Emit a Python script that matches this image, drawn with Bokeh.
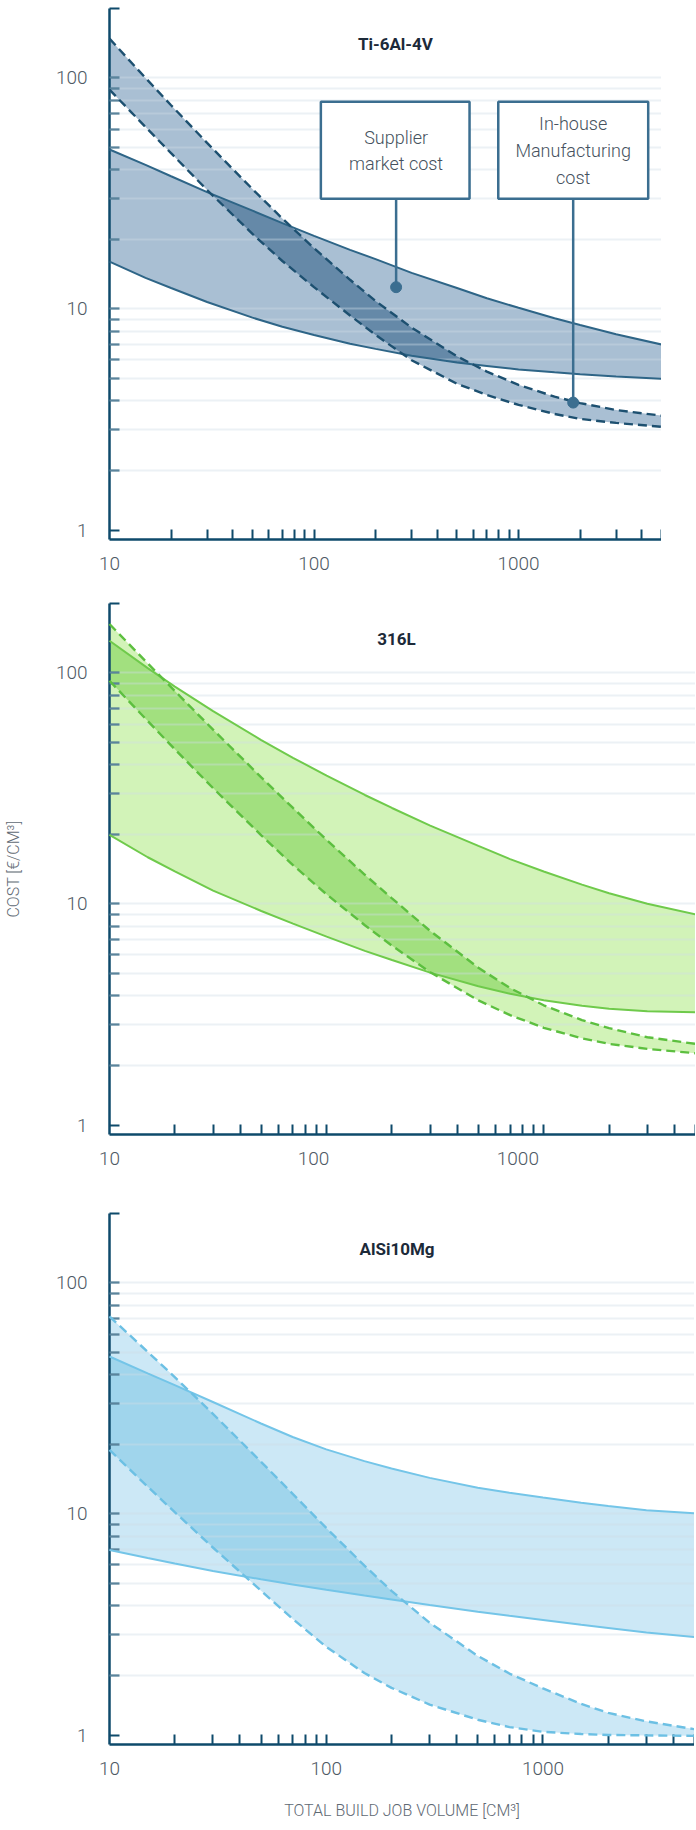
import numpy as np
from bokeh.plotting import figure
from bokeh.models import FixedTicker, Range1d, Label, BoxAnnotation, CustomJSTickFormatter
from bokeh.layouts import column
from bokeh.embed import file_html
from bokeh.resources import INLINE

# ---------------- data ----------------
volume = [10, 15, 20, 30, 50, 70, 100, 150, 200, 300, 500, 700, 1000, 1500, 2000, 3000, 5000]

ti_supplier_high = [49, 42, 37.5, 32, 26.6, 23.5, 20.7, 18, 16.4, 14.3, 12.3, 11.1, 10.1, 9.1, 8.5, 7.75, 7.0]
ti_supplier_low = [16, 13.6, 12.3, 10.7, 9.15, 8.35, 7.7, 7.05, 6.7, 6.25, 5.85, 5.65, 5.45, 5.3, 5.2, 5.08, 4.97]
ti_inhouse_high = [148, 100, 76.2, 52.3, 33.0, 24.6, 18.3, 13.35, 10.8, 8.28, 6.22, 5.34, 4.68, 4.16, 3.9, 3.64, 3.44]
ti_inhouse_low = [89, 61.3, 47.2, 32.7, 21.1, 16.1, 12.4, 9.35, 7.7, 5.98, 4.73, 4.23, 3.83, 3.5, 3.33, 3.2, 3.08]

ss_supplier_high = [138, 104.9, 87.2, 68.3, 51.2, 42.9, 35.9, 29.6, 26.0, 21.8, 17.8, 15.6, 13.8, 12.1, 11.1, 10.0, 9.0]
ss_supplier_low = [19.9, 15.9, 13.8, 11.4, 9.3, 8.2, 7.2, 6.25, 5.7, 5.03, 4.39, 4.07, 3.82, 3.61, 3.51, 3.42, 3.39]
ss_inhouse_high = [163, 110, 83.5, 56.8, 35.3, 26.0, 18.9, 13.35, 10.55, 7.62, 5.28, 4.31, 3.63, 3.13, 2.89, 2.64, 2.47]
ss_inhouse_low = [92.5, 61.9, 46.7, 31.7, 19.8, 14.7, 10.98, 8.07, 6.58, 5.05, 3.81, 3.29, 2.9, 2.61, 2.47, 2.35, 2.25]

al_supplier_high = [48, 40.6, 36.1, 30.5, 24.6, 21.5, 19.0, 16.9, 15.7, 14.3, 12.97, 12.34, 11.75, 11.15, 10.8, 10.35, 10.05]
al_supplier_low = [6.97, 6.43, 6.08, 5.65, 5.2, 4.94, 4.68, 4.42, 4.25, 4.02, 3.76, 3.61, 3.46, 3.3, 3.2, 3.06, 2.92]
al_inhouse_high = [71.6, 50.3, 39.1, 27.1, 16.8, 12.2, 8.68, 5.96, 4.63, 3.37, 2.42, 2.03, 1.75, 1.5, 1.37, 1.26, 1.165]
al_inhouse_low = [18.9, 13.1, 10.16, 7.14, 4.64, 3.5, 2.65, 2.04, 1.76, 1.49, 1.28, 1.19, 1.135, 1.11, 1.1, 1.095, 1.09]

chart_titles = ["Ti-6Al-4V", "316L", "AlSi10Mg"]

x_tick_labels = ["10", "100", "1000"]
x_label_values = [10, 100, 1000]
x_label_values_316l = [10, 87, 760]   # the reference draws 316L's labels at Ti-chart spacing
x_minor_ticks = [20, 30, 40, 50, 60, 70, 80, 90, 100, 200, 300, 400, 500, 600, 700, 800, 900, 1000,
                 2000, 3000, 4000, 5000]
y_tick_labels = ["1", "10", "100"]
y_label_values = [1.094, 10, 100]     # the "1" tick sits just above the x axis in the reference
y_minor_ticks = [2, 3, 4, 5, 6, 7, 8, 9, 20, 30, 40, 50, 60, 70, 80, 90, 200]
y_grid_values = [2, 3, 4, 5, 6, 7, 8, 9, 10, 20, 30, 40, 50, 60, 70, 80, 90, 100, 200]

X_START, X_END = 10, 5000
Y_START, Y_END = 1, 200

# annotation anchors (Ti-6Al-4V chart)
supplier_box = dict(left=108, right=576, bottom=30.0, top=78.8)
inhouse_box = dict(left=796, right=4305, bottom=30.0, top=78.8)
supplier_point = (252, 12.4)
inhouse_point = (1850, 3.92)

AXIS = "#0e4a6b"
TICK_FONT = "Roboto Light"
LABEL_COLOR = "#4f5a65"


def tick_formatter(positions, labels):
    return CustomJSTickFormatter(args=dict(pos=positions, labels=labels), code="""
        let best = 0, bd = Infinity;
        for (let i = 0; i < pos.length; i++) {
            const d = Math.abs(Math.log10(tick) - Math.log10(pos[i]));
            if (d < bd) { bd = d; best = i; }
        }
        return labels[best];
    """)


def overlap_band(xs, s_lo, s_hi, i_lo, i_hi, steps=40):
    lx = np.log10(xs)
    fine = np.unique(np.concatenate([np.linspace(lx[k], lx[k + 1], steps + 1) for k in range(len(lx) - 1)]))

    def at(c):
        return 10 ** np.interp(fine, lx, np.log10(c))

    lo = np.maximum(at(s_lo), at(i_lo))
    hi = np.minimum(at(s_hi), at(i_hi))
    hi = np.maximum(hi, lo)
    return 10 ** fine, lo, hi


def build(title, title_x, curves, colors, width, height, btop, bbottom, x_label_pos,
          ylabel=None, xlabel=None):
    s_lo, s_hi, i_lo, i_hi = curves
    band, over, solid, dashed = colors
    p = figure(width=width, height=height, x_axis_type="log", y_axis_type="log",
               x_range=Range1d(X_START, X_END), y_range=Range1d(Y_START, Y_END),
               output_backend="svg", toolbar_location=None, title=None,
               min_border_left=106, min_border_right=0, min_border_top=btop, min_border_bottom=bbottom)
    p.outline_line_color = None
    p.xgrid.visible = False
    p.ygrid.ticker = FixedTicker(ticks=y_grid_values)
    p.ygrid.grid_line_color = "#cfdde7"
    p.ygrid.grid_line_alpha = 0.4
    p.ygrid.grid_line_width = 2
    p.ygrid.level = "guide"

    # bands
    p.varea(x=volume, y1=s_lo, y2=s_hi, fill_color=band, fill_alpha=1)
    p.varea(x=volume, y1=i_lo, y2=i_hi, fill_color=band, fill_alpha=1)
    ox, olo, ohi = overlap_band(volume, s_lo, s_hi, i_lo, i_hi)
    p.varea(x=ox, y1=olo, y2=ohi, fill_color=over, fill_alpha=1)

    # curves
    p.line(volume, s_hi, line_color=solid, line_width=2, level="annotation")
    p.line(volume, s_lo, line_color=solid, line_width=2, level="annotation")
    p.line(volume, i_hi, line_color=dashed, line_width=2.4, line_dash="9 5", level="annotation")
    p.line(volume, i_lo, line_color=dashed, line_width=2.4, line_dash="9 5", level="annotation")

    # axes
    xa = p.xaxis[0]
    ya = p.yaxis[0]
    xa.ticker = FixedTicker(ticks=x_label_pos, minor_ticks=x_minor_ticks)
    xa.formatter = tick_formatter(x_label_pos, x_tick_labels)
    ya.ticker = FixedTicker(ticks=y_label_values, minor_ticks=y_minor_ticks)
    ya.formatter = tick_formatter(y_label_values, y_tick_labels)
    for ax in (xa, ya):
        ax.axis_line_color = AXIS
        ax.axis_line_width = 2.5
        ax.major_tick_line_color = AXIS
        ax.minor_tick_line_color = AXIS
        ax.major_tick_line_width = 2
        ax.minor_tick_line_width = 2
        ax.major_tick_out = 0
        ax.minor_tick_out = 0
        ax.minor_tick_in = 10
        ax.major_label_text_font = TICK_FONT
        ax.major_label_text_font_size = "19px"
        ax.major_label_text_color = LABEL_COLOR
        ax.axis_label_text_font = TICK_FONT
        ax.axis_label_text_font_style = "normal"
        ax.axis_label_text_color = "#5f6a74"
    xa.major_tick_in = 0
    ya.major_tick_in = 10
    ya.major_label_standoff = 22
    xa.major_label_standoff = 17
    if ylabel:
        ya.axis_label = ylabel
        ya.axis_label_text_font_size = "16px"
        ya.axis_label_standoff = 30
    if xlabel:
        xa.axis_label = xlabel
        xa.axis_label_text_font_size = "16px"
        xa.axis_label_standoff = 23

    p.add_layout(Label(x=title_x, y=140, text=title, text_align="center", text_baseline="middle",
                       text_font="Roboto", text_font_style="bold", text_font_size="17px",
                       text_color="#1c2a39"))
    return p


p1 = build(chart_titles[0], 250, (ti_supplier_low, ti_supplier_high, ti_inhouse_low, ti_inhouse_high),
           ("#a9bfd3", "#6589a8", "#2e6587", "#1d5070"), 661, 600, 8, 61, x_label_values)
p2 = build(chart_titles[1], 210, (ss_supplier_low, ss_supplier_high, ss_inhouse_low, ss_inhouse_high),
           ("#d2f3b8", "#a2e07f", "#6fca4b", "#5cbf3f"), 695, 610, 3, 76, x_label_values_316l,
           ylabel="COST [€/CM³]")
p3 = build(chart_titles[2], 212, (al_supplier_low, al_supplier_high, al_inhouse_low, al_inhouse_high),
           ("#cce8f6", "#a0d5ec", "#74c5e8", "#6cc0e4"), 694, 618, 3, 84, x_label_values,
           xlabel="TOTAL BUILD JOB VOLUME [CM³]")

# ---- annotation boxes on the Ti chart ----
BOX_LINE = "#3b6e90"
TEXT_COL = "#46525e"
for box in (supplier_box, inhouse_box):
    p1.add_layout(BoxAnnotation(fill_color="white", fill_alpha=1, line_color=BOX_LINE, line_width=2.5,
                                line_alpha=1, **box))
for (px, py) in (supplier_point, inhouse_point):
    p1.segment(x0=[px], y0=[supplier_box["bottom"]], x1=[px], y1=[py], line_color=BOX_LINE,
               line_width=2.5, level="annotation")
    p1.scatter(x=[px], y=[py], size=11, fill_color=BOX_LINE, line_color=BOX_LINE, level="annotation")

for txt, yv in (("Supplier", 55.2), ("market cost", 42.6)):
    p1.add_layout(Label(x=supplier_point[0], y=yv, text=txt, text_align="center", text_baseline="middle",
                        text_font=TICK_FONT, text_font_size="18px", text_color=TEXT_COL))
for txt, yv in (("In-house", 63.5), ("Manufacturing", 48.3), ("cost", 37.2)):
    p1.add_layout(Label(x=inhouse_point[0], y=yv, text=txt, text_align="center", text_baseline="middle",
                        text_font=TICK_FONT, text_font_size="18px", text_color=TEXT_COL))

layout = column(p1, p2, p3)
open("out.html", "w").write(file_html(layout, INLINE))
